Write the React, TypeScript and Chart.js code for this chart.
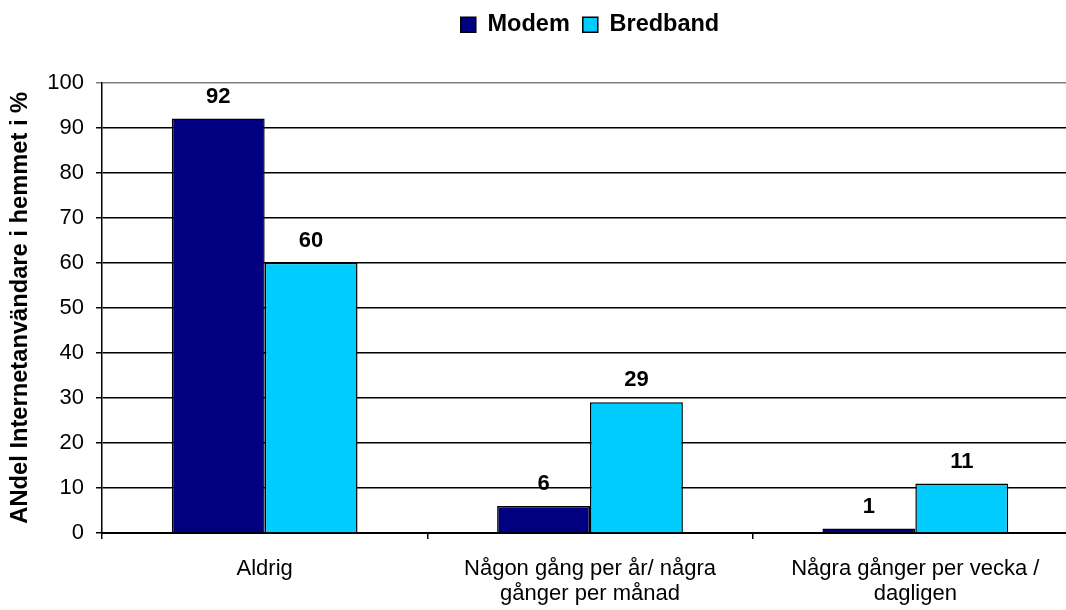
import React, { useEffect, useRef } from "react";
import { Chart, registerables } from "chart.js";

Chart.register(...registerables);

const categories: (string | string[])[] = [
  "Aldrig",
  ["Någon gång per år/ några", "gånger per månad"],
  ["Några gånger per vecka /", "dagligen"],
];
const modemValues = [92, 6, 1];
const bredbandValues = [60, 29, 11];
const seriesNames = ["Modem", "Bredband"];
const yAxisTitle = "ANdel Internetanvändare i hemmet i %";
const yTicks = { min: 0, max: 100, step: 10 };

const FONT = "'Liberation Sans', Arial, sans-serif";
const CANVAS_W = 1180;
const CANVAS_H = 610;

const legendSpacer = {
  id: "legendSpacer",
  beforeInit(chart: any) {
    const legend = chart.legend;
    if (!legend || legend._spacerPatched) return;
    const fit = legend.fit;
    legend.fit = function () {
      fit.call(this);
      this.height += 36;
    };
    legend._spacerPatched = true;
  },
  afterLayout(chart: any) {
    const legend = chart.legend;
    if (!legend) return;
    legend.left = 0;
    legend.right = chart.width;
    legend.width = chart.width;
  },
};

const valueLabels = {
  id: "valueLabels",
  afterDatasetsDraw(chart: any) {
    const ctx = chart.ctx;
    ctx.save();
    ctx.font = `bold 22px ${FONT}`;
    ctx.fillStyle = "#000";
    ctx.textAlign = "center";
    ctx.textBaseline = "middle";
    chart.data.datasets.forEach((ds: any, di: number) => {
      const meta = chart.getDatasetMeta(di);
      meta.data.forEach((el: any, i: number) => {
        ctx.fillText(String(ds.data[i]), el.x, el.y - 22);
      });
    });
    ctx.restore();
  },
};

export default function App() {
  const canvasRef = useRef<HTMLCanvasElement | null>(null);

  useEffect(() => {
    if (!canvasRef.current) return;
    const chart = new Chart(canvasRef.current, {
      type: "bar",
      data: {
        labels: categories,
        datasets: [
          {
            label: seriesNames[0],
            data: modemValues,
            backgroundColor: "#000080",
            borderColor: "#000000",
            borderWidth: 1.5,
            categoryPercentage: 0.571,
            barPercentage: 1,
          },
          {
            label: seriesNames[1],
            data: bredbandValues,
            backgroundColor: "#00CCFF",
            borderColor: "#000000",
            borderWidth: 1.5,
            categoryPercentage: 0.571,
            barPercentage: 1,
          },
        ],
      },
      options: {
        responsive: false,
        animation: false,
        layout: { padding: { left: 0, right: 102, top: 0, bottom: 0 } },
        plugins: {
          tooltip: { enabled: false },
          legend: {
            position: "top",
            labels: {
              color: "#000",
              font: { family: FONT, size: 23.5, weight: "bold" },
              boxWidth: 15,
              boxHeight: 15,
              padding: 13,
            },
          },
        },
        scales: {
          x: {
            afterFit(scale: any) {
              scale.height = 77;
            },
            grid: {
              drawOnChartArea: false,
              drawTicks: true,
              tickLength: 6,
              color: "#000",
              lineWidth: 1.5,
            },
            border: { color: "#000", width: 2 },
            ticks: {
              color: "#000",
              padding: 18,
              maxRotation: 0,
              autoSkip: false,
              font: { family: FONT, size: 22, lineHeight: 1.12 },
            },
          },
          y: {
            min: yTicks.min,
            max: yTicks.max,
            afterFit(scale: any) {
              scale.width = 102;
            },
            grid: {
              color: (c: any) => (c.tick && c.tick.value === 100 ? "#808080" : "#000"),
              lineWidth: 1.5,
              tickLength: 6,
              drawTicks: true,
            },
            border: { color: "#000", width: 1.5 },
            ticks: {
              stepSize: yTicks.step,
              color: "#000",
              padding: 12,
              font: { family: FONT, size: 22 },
            },
            title: {
              display: true,
              text: yAxisTitle,
              color: "#000",
              padding: { top: 6, bottom: 0 },
              font: { family: FONT, size: 23.7, weight: "bold" },
            },
          },
        },
      },
      plugins: [legendSpacer, valueLabels],
    } as any);
    return () => chart.destroy();
  }, []);

  return (
    <div
      style={{
        position: "fixed",
        left: 0,
        top: 0,
        width: 1066,
        height: 610,
        overflow: "hidden",
        background: "#fff",
      }}
    >
      <canvas
        ref={canvasRef}
        width={CANVAS_W}
        height={CANVAS_H}
        style={{ display: "block", width: CANVAS_W, height: CANVAS_H }}
      />
    </div>
  );
}
